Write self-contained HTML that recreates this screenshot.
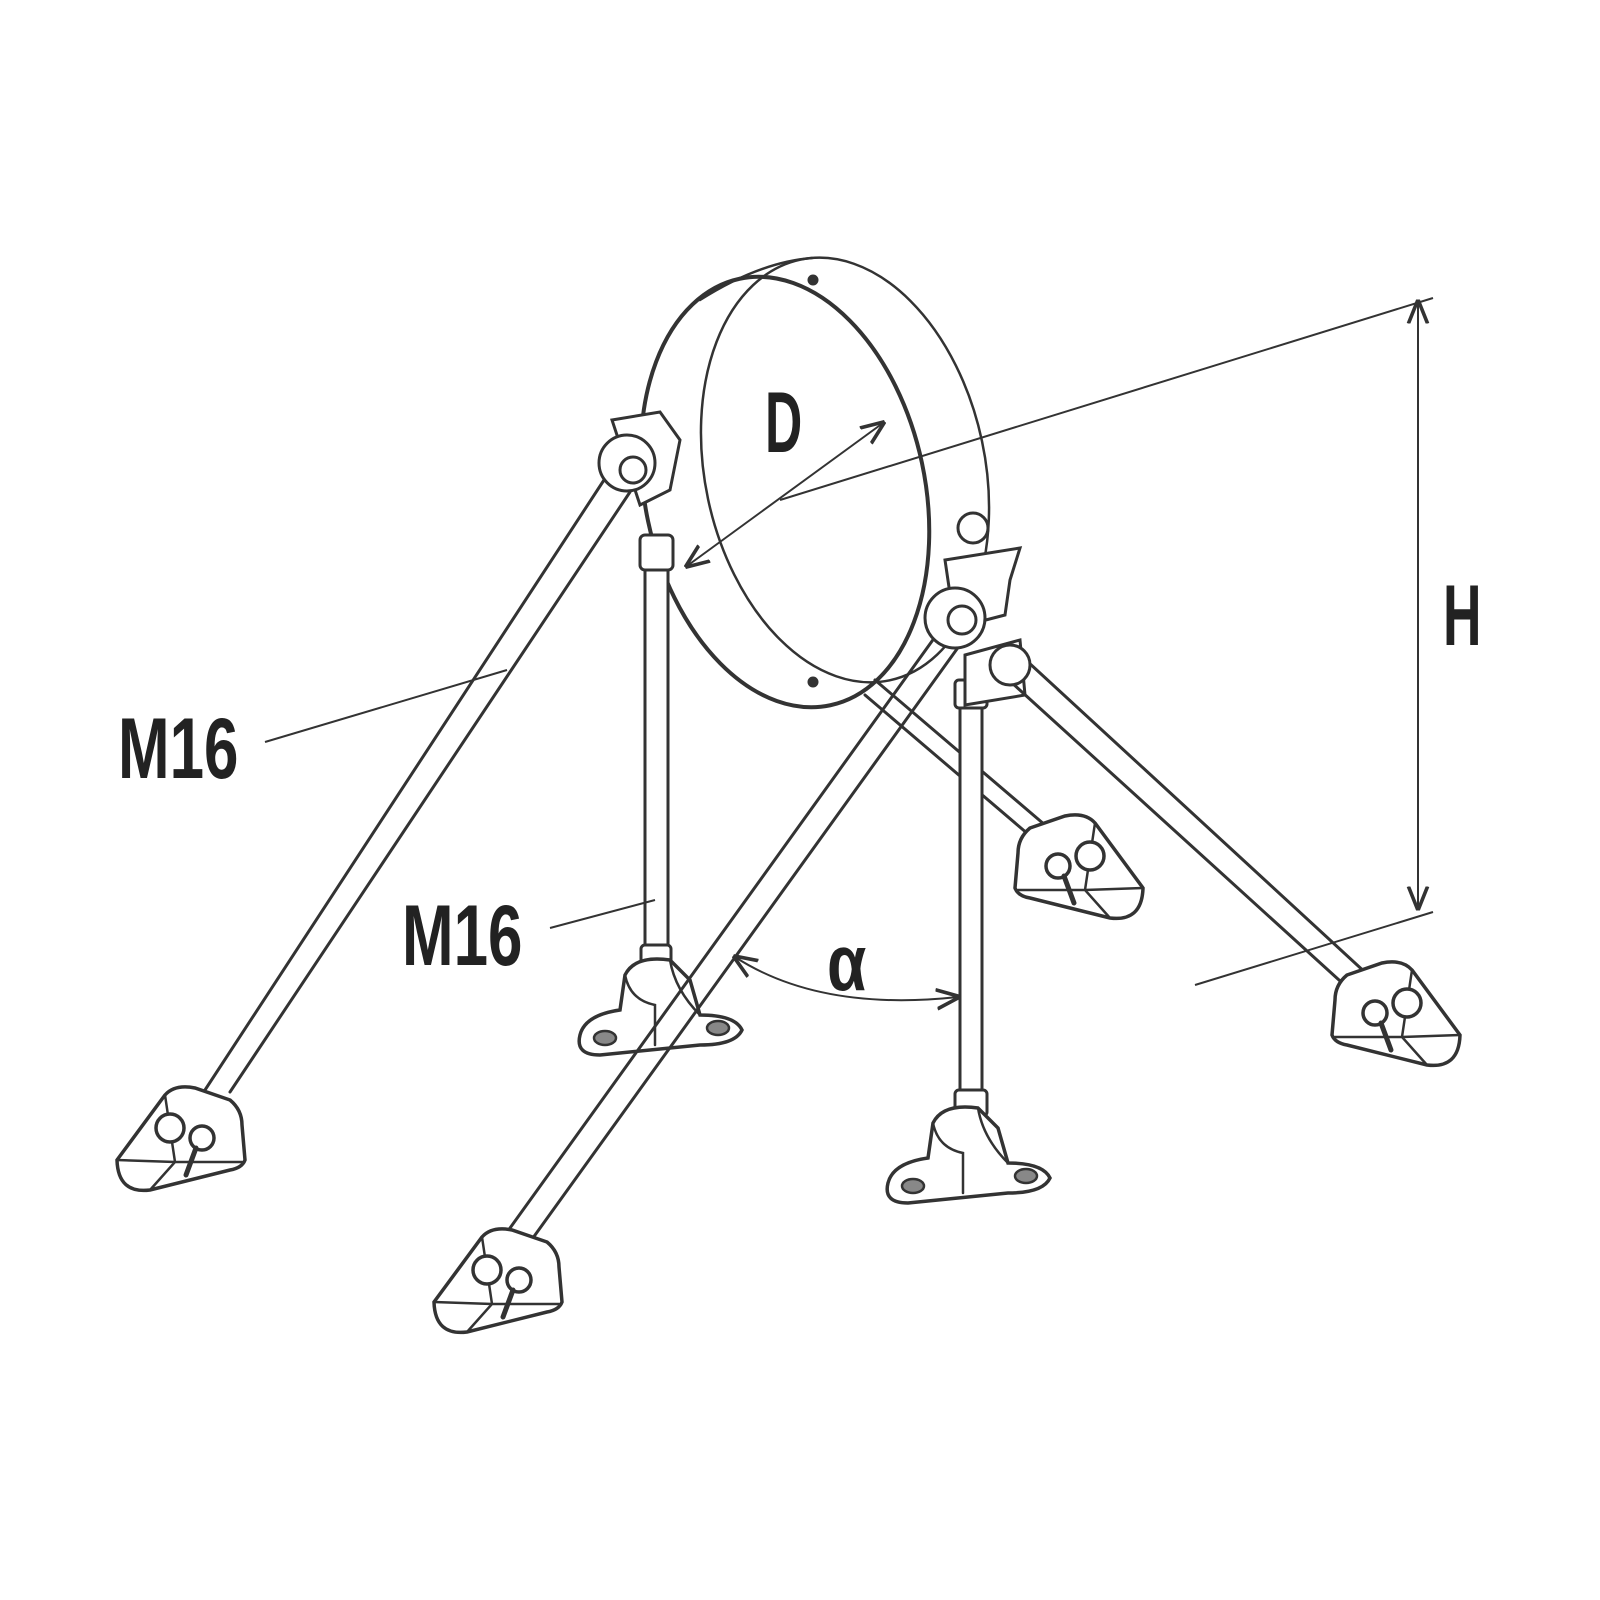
<!DOCTYPE html>
<html><head><meta charset="utf-8"><style>
html,body{margin:0;padding:0;background:#fff;}
svg{display:block;}
text{font-family:"Liberation Sans",sans-serif;fill:#222;font-weight:bold;}
</style></head><body>
<svg width="1600" height="1600" viewBox="0 0 1600 1600" xmlns="http://www.w3.org/2000/svg">
<defs>
<marker id="ar" viewBox="0 0 10 10" refX="9" refY="5" markerWidth="12" markerHeight="12" orient="auto-start-reverse"><path d="M0,1 L10,5 L0,9" fill="none" stroke="#333" stroke-width="1.5"/></marker>
<g id="foot">
<path d="M-63,20 L-15,-45 Q-5,-56 15,-52 L50,-40 Q62,-30 62,-15 L65,20 Q62,28 50,30 L-30,50 Q-62,54 -63,20 Z" fill="#fff" stroke="#333" stroke-width="3.5"/>
<path d="M-15,-45 L-5,22 L-30,50 M-63,20 L-5,22 L62,22" fill="none" stroke="#333" stroke-width="2.5"/>
<circle cx="-10" cy="-12" r="14" fill="#fff" stroke="#333" stroke-width="3.5"/>
<circle cx="22" cy="-2" r="12" fill="#fff" stroke="#333" stroke-width="3.5"/>
<path d="M16,8 L6,35" stroke="#333" stroke-width="5"/>
</g>
<g id="base">
<path d="M-80,35 Q-75,15 -40,10 L-35,-25 Q-25,-45 10,-40 L30,-20 L40,15 Q75,15 82,30 Q75,45 40,45 L-60,55 Q-85,55 -80,35 Z" fill="#fff" stroke="#333" stroke-width="3.5"/>
<path d="M-35,-25 Q-30,0 -5,5 L-5,45 M10,-40 Q15,-10 40,15" fill="none" stroke="#333" stroke-width="2.5"/>
<ellipse cx="-55" cy="38" rx="11" ry="7" fill="#888" stroke="#333" stroke-width="2.5"/>
<ellipse cx="58" cy="28" rx="11" ry="7" fill="#888" stroke="#333" stroke-width="2.5"/>
</g>
</defs>
<g fill="none" stroke="#333" stroke-width="3" stroke-linecap="round">
<path d="M875,680 L1045,825 M865,695 L1035,840"/>
<use href="#foot" transform="translate(1080,868) scale(-1,1)"/>
<ellipse cx="845" cy="470" rx="140" ry="215" transform="rotate(-12 845 470)" stroke-width="2.5"/>
<ellipse cx="785" cy="492" rx="140" ry="218" transform="rotate(-12 785 492)" stroke-width="4"/>
<path d="M700,300 Q760,262 812,258" stroke-width="2.5"/>
<circle cx="813" cy="280" r="4" fill="#333"/>
<circle cx="813" cy="682" r="4" fill="#333"/>
<rect x="645" y="560" width="23" height="390" fill="#fff"/>
<rect x="641" y="945" width="30" height="27" rx="4" fill="#fff"/>
<use href="#base" x="660" y="1000"/>
<path d="M612,420 L660,412 L680,440 L670,490 L640,505 Z" fill="#fff"/>
<circle cx="627" cy="463" r="28" fill="#fff"/>
<circle cx="633" cy="470" r="13" fill="#fff"/>
<rect x="640" y="535" width="33" height="35" rx="5" fill="#fff"/>
<path d="M604,480 L205,1090 M630,492 L230,1092"/>
<use href="#foot" x="180" y="1140"/>
<rect x="960" y="700" width="22" height="395" fill="#fff"/>
<rect x="955" y="680" width="32" height="28" rx="4" fill="#fff"/>
<rect x="955" y="1090" width="32" height="26" rx="4" fill="#fff"/>
<use href="#base" x="968" y="1148"/>
<path d="M945,560 L1020,548 L1010,580 L1005,615 L955,628 Z" fill="#fff"/>
<circle cx="973" cy="528" r="15" fill="#fff"/>
<path d="M965,655 L1020,640 L1025,695 L965,705 Z" fill="#fff"/>
<path d="M1015,650 L1368,975 M1000,672 L1350,990"/>
<use href="#foot" transform="translate(1397,1015) scale(-1,1)"/>
<circle cx="1010" cy="665" r="20" fill="#fff"/>
<path d="M940,630 L505,1235 M962,642 L530,1242"/>
<circle cx="955" cy="618" r="30" fill="#fff"/>
<circle cx="962" cy="620" r="14" fill="#fff"/>
<use href="#foot" x="497" y="1282"/>
</g>
<g fill="none" stroke="#333" stroke-width="2">
<path d="M780,500 L1433,298"/>
<path d="M1195,985 L1433,912"/>
<path d="M1418,302 L1418,908" marker-start="url(#ar)" marker-end="url(#ar)"/>
<path d="M687,566 L883,423" marker-start="url(#ar)" marker-end="url(#ar)"/>
<path d="M735,957 Q820,1012 958,997" marker-start="url(#ar)" marker-end="url(#ar)"/>
<path d="M265,742 L507,670"/>
<path d="M550,928 L655,900"/>
</g>
<text transform="translate(765,452) scale(0.6,1)" font-size="86">D</text>
<text transform="translate(1443,645) scale(0.62,1)" font-size="86">H</text>
<text transform="translate(827,990) scale(0.8,1)" font-size="80">α</text>
<text transform="translate(118,778) scale(0.72,1)" font-size="86">M16</text>
<text transform="translate(402,965) scale(0.72,1)" font-size="86">M16</text>
</svg>
</body></html>
